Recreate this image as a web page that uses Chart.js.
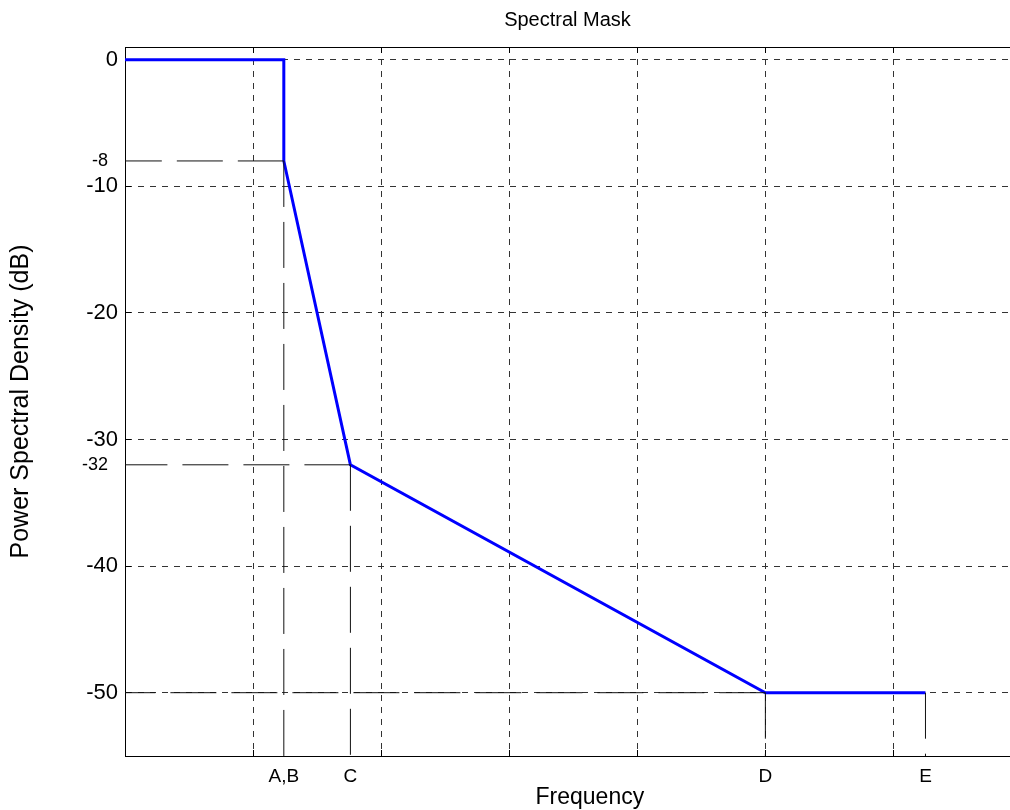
<!DOCTYPE html>
<html>
<head>
<meta charset="utf-8">
<title>Spectral Mask</title>
<script src="https://cdn.jsdelivr.net/npm/chart.js@4/dist/chart.umd.min.js"></script>
<style>
  html, body { margin: 0; padding: 0; background: #fff; }
  #wrap { width: 1010px; height: 810px; }
</style>
</head>
<body>
<div id="wrap"><canvas id="maskChart" width="1010" height="810"></canvas></div>
<script>
// mask corner points (frequency in grid units, PSD in dB)
const maskFreq = [0, 1.24, 1.24, 1.76, 5, 6.25];
const maskPsd = [0, 0, -8, -32, -50, -50];

// labelled frequencies under the x axis
const freqMarks = [1.24, 1.76, 5, 6.25];
const freqLabels = ["A,B", "C", "D", "E"];

// grid positions
const gridFreq = [1, 2, 3, 4, 5, 6];
const gridPsd = [0, -10, -20, -30, -40, -50];
const markPsd = [-8, -32];

const xMin = 0, xMax = 6.91;
const yMin = -55, yMax = 1;

const FONT = "Arial, 'Liberation Sans', sans-serif";
const TICK_IN = -6; // tick marks point into the plot

const maskLine = maskFreq.map((f, i) => ({ x: f, y: maskPsd[i] }));

// long-dash guide lines from each corner to the left axis and down to the bottom
const guideH = [];
const guideV = [];
for (let i = 2; i < maskFreq.length; i++) {
  if (i < maskFreq.length - 1) {
    guideH.push({ x: maskFreq[i], y: maskPsd[i] }, { x: xMin, y: maskPsd[i] }, { x: xMin, y: null });
  }
  guideV.push({ x: maskFreq[i], y: maskPsd[i] }, { x: maskFreq[i], y: yMin }, { x: maskFreq[i], y: null });
}

const xTicks = [...new Set([...gridFreq, ...freqMarks])].sort((a, b) => a - b);
const yTicks = [...new Set([...gridPsd, ...markPsd])].sort((a, b) => b - a);

const guideStyle = {
  borderColor: "#111",
  borderWidth: 1,
  borderDash: [46, 15],
  pointRadius: 0,
  spanGaps: false,
  fill: false,
};

const onGrid = (list, color) => (ctx) =>
  ctx.tick && list.includes(ctx.tick.value) ? color : "rgba(0,0,0,0)";

new Chart(document.getElementById("maskChart"), {
  type: "line",
  data: {
    datasets: [
      { label: "h", data: guideH, ...guideStyle },
      { label: "v", data: guideV, ...guideStyle },
      {
        label: "Spectral Mask",
        data: maskLine,
        borderColor: "#0000ff",
        borderWidth: 3,
        pointRadius: 0,
        fill: false,
        tension: 0,
      },
    ],
  },
  options: {
    responsive: false,
    animation: false,
    devicePixelRatio: 1,
    layout: { padding: 0 },
    plugins: {
      legend: { display: false },
      tooltip: { enabled: false },
      title: {
        display: true,
        text: "Spectral Mask",
        fullSize: false,
        color: "#000",
        font: { family: FONT, size: 20, weight: "normal", lineHeight: 1.2 },
        padding: { top: 8, bottom: 15 },
      },
    },
    scales: {
      x: {
        type: "linear",
        position: "bottom",
        min: xMin,
        max: xMax,
        afterBuildTicks: (scale) => {
          scale.ticks = xTicks.map((v) => ({ value: v }));
        },
        afterFit: (scale) => {
          scale.height = 54;
        },
        grid: {
          drawTicks: true,
          tickLength: TICK_IN,
          color: onGrid(gridFreq, "#333"),
          tickColor: onGrid(gridFreq, "#000"),
          lineWidth: 1,
        },
        border: { display: true, color: "#000", width: 1, dash: [6, 6] },
        ticks: {
          autoSkip: false,
          maxRotation: 0,
          padding: 9 - TICK_IN,
          color: "#000",
          font: { family: FONT, size: 19 },
          callback: (value) => {
            const i = freqMarks.indexOf(value);
            return i >= 0 ? freqLabels[i] : "";
          },
        },
        title: {
          display: true,
          text: "       Frequency",
          color: "#000",
          font: { family: FONT, size: 23, lineHeight: 1.1 },
          padding: { top: 0, bottom: 0 },
        },
      },
      xTop: {
        type: "linear",
        position: "top",
        min: xMin,
        max: xMax,
        afterBuildTicks: (scale) => {
          scale.ticks = gridFreq.map((v) => ({ value: v }));
        },
        afterFit: (scale) => {
          scale.height = 0;
        },
        grid: {
          display: true,
          drawOnChartArea: false,
          drawTicks: true,
          tickLength: TICK_IN,
          tickColor: "#000",
        },
        border: { display: true, color: "#000", width: 1 },
        ticks: { display: false },
      },
      y: {
        type: "linear",
        position: "left",
        min: yMin,
        max: yMax,
        afterBuildTicks: (scale) => {
          scale.ticks = yTicks.map((v) => ({ value: v }));
        },
        afterFit: (scale) => {
          scale.width = 125;
        },
        grid: {
          drawTicks: true,
          tickLength: TICK_IN,
          color: onGrid(gridPsd, "#333"),
          tickColor: onGrid(gridPsd, "#000"),
          lineWidth: 1,
        },
        border: { display: true, color: "#000", width: 1, dash: [6, 6] },
        ticks: {
          autoSkip: false,
          padding: 7 - TICK_IN,
          color: "#000",
          font: (ctx) => ({
            family: FONT,
            size: ctx.tick && markPsd.includes(ctx.tick.value) ? 18 : 22,
          }),
          callback: (value) => (markPsd.includes(value) ? value + "  " : String(value)),
        },
        title: {
          display: true,
          text: "Power Spectral Density (dB)",
          color: "#000",
          font: { family: FONT, size: 25, lineHeight: 1.2 },
          padding: { top: 6, bottom: 0 },
        },
      },
    },
  },
});
</script>
</body>
</html>
